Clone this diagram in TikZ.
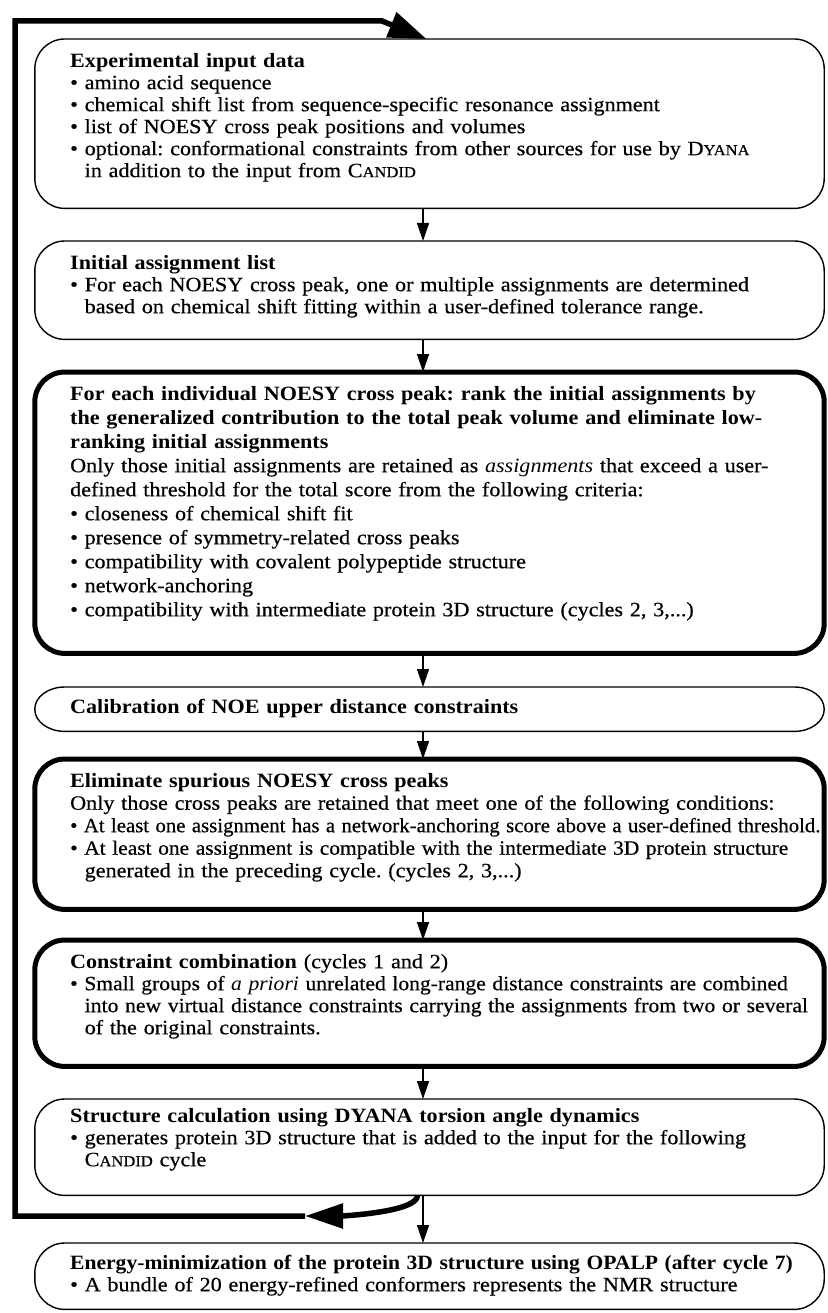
\documentclass[tikz,border=0pt]{standalone}
\usepackage{fontspec}
\usepackage{graphicx}
\setmainfont{Liberation Serif}[FakeStretch=1.09, UprightFeatures={FakeBold=0.5}]
\usetikzlibrary{arrows.meta,calc}
\frenchspacing
\newcommand\fsc[2]{#1{\fontsize{15.2}{22}\selectfont #2}}
\newcommand\sq[2]{\scalebox{#1}[1]{#2}}
\newcommand\outl[3]{\draw[#3] ($(#1.north west)+(30,0)$) -- ($(#1.north east)+(-30,0)$)
  arc[start angle=90,end angle=0,x radius=30,y radius=#2] -- ($(#1.south east)+(0,#2)$)
  arc[start angle=0,end angle=-90,x radius=30,y radius=#2] -- ($(#1.south west)+(30,0)$)
  arc[start angle=270,end angle=180,x radius=30,y radius=#2] -- ($(#1.north west)+(0,-#2)$)
  arc[start angle=180,end angle=90,x radius=30,y radius=#2] -- cycle;}
\begin{document}
\begin{tikzpicture}[x=1pt,y=1pt,
  bx/.style={rectangle, minimum width=789pt, inner sep=0pt, anchor=north},
  thinline/.style={line width=1.4pt, line join=round},
  thickline/.style={line width=5pt, line join=round},
  txt/.style={anchor=north west, inner sep=0pt, text width=800pt, align=left, font=\frenchspacing\fontsize{20.3}{22}\selectfont},
  arr/.style={line width=1.4pt, -{Triangle[length=18pt,width=12pt]}},
  fb/.style={line width=5.5pt, line join=miter},
]
\useasboundingbox (0,0) rectangle (827,-1313);
% boxes
\node[bx, minimum height=169pt] (b1) at (429.5,-39) {};
\node[bx, minimum height=98pt]  (b2) at (429.5,-241) {};
\node[bx, minimum height=281pt] (b3) at (429.5,-372) {};
\node[bx, minimum height=44pt]  (b4) at (429.5,-687) {};
\node[bx, minimum height=150pt] (b5) at (429.5,-759) {};
\node[bx, minimum height=126pt] (b6) at (429.5,-940) {};
\node[bx, minimum height=96pt]  (b7) at (429.5,-1099) {};
\node[bx, minimum height=66pt]  (b8) at (429.5,-1243) {};
\outl{b1}{30}{thinline}
\outl{b2}{30}{thinline}
\outl{b3}{30}{thickline}
\outl{b4}{22}{thinline}
\outl{b5}{30}{thickline}
\outl{b6}{30}{thickline}
\outl{b7}{30}{thinline}
\outl{b8}{30}{thinline}
% texts
\node[txt] (t1) at (70,-51.6) {\strut\textbf{Experimental input data}\\
• amino acid sequence\\
• chemical shift list from sequence-specific resonance assignment\\
• list of NOESY cross peak positions and volumes\\
• optional: conformational constraints from other sources for use by \fsc{D}{YANA}\\
\phantom{• }in addition to the input from \fsc{C}{ANDID}};
\node[txt] (t2) at (70,-253.6) {\strut\textbf{Initial assignment list}\\
• For each NOESY cross peak, one or multiple assignments are determined\\
\phantom{• }based on chemical shift fitting within a user-defined tolerance range.};
\node[txt, font=\frenchspacing\fontsize{20.3}{24}\selectfont] (t3) at (70,-383.2) {\strut\textbf{For each individual NOESY cross peak: rank the initial assignments by}\\
\textbf{the generalized contribution to the total peak volume and eliminate low-}\\
\textbf{ranking initial assignments}\\
Only those initial assignments are retained as \textit{assignments} that exceed a user-\\
defined threshold for the total score from the following criteria:\\
• closeness of chemical shift fit\\
• presence of symmetry-related cross peaks\\
• compatibility with covalent polypeptide structure\\
• network-anchoring\\
• compatibility with intermediate protein 3D structure (cycles 2, 3,...)};
\node[txt] (t4) at (70,-697.6) {\strut\textbf{Calibration of NOE upper distance constraints}};
\node[txt, font=\frenchspacing\fontsize{20.3}{22.5}\selectfont] (t5) at (70,-771.25) {\strut\textbf{Eliminate spurious NOESY cross peaks}\\
Only those cross peaks are retained that meet one of the following conditions:\\
\sq{0.94}{• At least one assignment has a network-anchoring score above a user-defined threshold.}\\
\sq{0.97}{• At least one assignment is compatible with the intermediate 3D protein structure}\\
\phantom{• }generated in the preceding cycle. (cycles 2, 3,...)};
\node[txt] (t6) at (70,-952.6) {\strut\textbf{Constraint combination} (cycles 1 and 2)\\
\sq{0.975}{• Small groups of \textit{a priori} unrelated long-range distance constraints are combined}\\
\phantom{• }\sq{0.98}{into new virtual distance constraints carrying the assignments from two or several}\\
\phantom{• }of the original constraints.};
\node[txt] (t7) at (70,-1106.6) {\strut\textbf{Structure calculation using DYANA torsion angle dynamics}\\
• generates protein 3D structure that is added to the input for the following\\
\phantom{• }\fsc{C}{ANDID} cycle};
\node[txt] (t8) at (70,-1253.6) {\strut\sq{0.975}{\textbf{Energy-minimization of the protein 3D structure using OPALP (after cycle 7)}}\\
• A bundle of 20 energy-refined conformers represents the NMR structure};
% arrows
\foreach \a/\b in {b1/b2,b2/b3,b3/b4,b4/b5,b5/b6,b6/b7,b7/b8}
  \draw[arr] ([xshift=-6.5pt]\a.south) -- ([xshift=-6.5pt]\b.north);
% feedback loop
\coordinate (fbA) at (305,-1216);
\coordinate (fbB) at (15,-1216);
\coordinate (fbC) at (15,-21);
\coordinate (fbD) at (382,-21);
\draw[fb, -{Triangle[length=38pt,width=24pt]}] ([xshift=-12pt]b7.south) .. controls +(0,-17) and +(35,0) .. (fbA);
\draw[fb, -{Triangle[length=38pt,width=26pt]}] (fbA) -- (fbB) -- (fbC) -- (fbD) -- ([xshift=-3pt]b1.north);
\end{tikzpicture}
\end{document}
